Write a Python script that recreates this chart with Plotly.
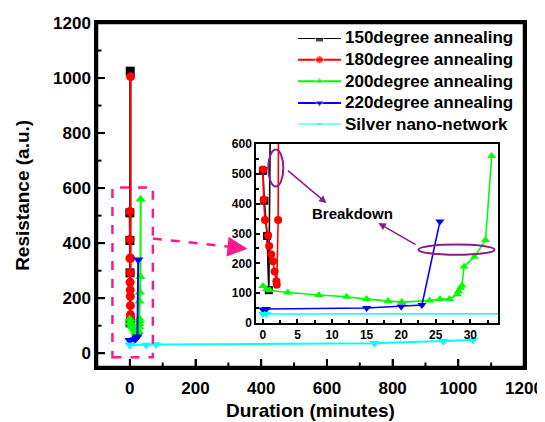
import plotly.graph_objects as go

# ---------------- data ----------------
names = ["150degree annealing", "180degree annealing", "200degree annealing",
         "220degree annealing", "Silver nano-network"]
colors = ["#000000", "#FF0000", "#00FF00", "#0000FF", "#00FFFF"]
symbols = ["square", "circle", "triangle-up", "triangle-down", "triangle-down"]

t150 = [0, 0.2, 0.6, 0.85, 1.2]
r150 = [510, 410, 292, 110, 1025]

t180 = [0, 0.1, 0.3, 0.75, 0.9, 1.2, 1.45, 1.7, 1.95, 2.0, 2.2, 2.3]
r180 = [515, 413, 345, 293, 258, 230, 207, 173, 140, 128, 345, 1005]

t200 = [0, 0.5, 1.0, 3.6, 8.1, 12.1, 15.0, 18.1, 20.1, 24.1, 25.6, 27.0,
        28.1, 28.3, 28.6, 28.8, 29.1, 30.6, 32.2, 33.1]
r200 = [124, 113, 110, 102, 94, 88, 80, 74, 70, 75, 80, 80,
        96, 107, 118, 126, 189, 222, 278, 560]

t220 = [0, 0.5, 15, 20, 23, 25.6]
r220 = [45, 47, 50, 55, 60, 340]

tAg = [0, 0.5, 50, 80, 745, 955, 1045]
rAg = [30, 30, 30, 32, 36, 44, 48]

series_t = [t150, t180, t200, t220, tAg]
series_r = [r150, r180, r200, r220, rAg]

main_xticks = [0, 200, 400, 600, 800, 1000, 1200]
main_yticks = [0, 200, 400, 600, 800, 1000, 1200]
main_xminor = [-100, 100, 300, 500, 700, 900, 1100]
main_yminor = [100, 300, 500, 700, 900, 1100]
inset_xticks = [0, 5, 10, 15, 20, 25, 30]
inset_yticks = [0, 100, 200, 300, 400, 500, 600]

FONT = "Liberation Sans"
BOLD = dict(family=FONT, color="black", weight="bold")

fig = go.Figure()
for i in range(5):
    fig.add_trace(go.Scatter(
        x=series_t[i], y=series_r[i], mode="lines+markers", name=names[i],
        line=dict(color=colors[i], width=2),
        marker=dict(symbol=symbols[i], size=9, color=colors[i]),
        xaxis="x", yaxis="y", showlegend=False))
for i in range(5):
    fig.add_trace(go.Scatter(
        x=series_t[i], y=series_r[i], mode="lines+markers", name=names[i],
        line=dict(color=colors[i], width=1.6),
        marker=dict(symbol=symbols[i], size=8, color=colors[i]),
        xaxis="x2", yaxis="y2", showlegend=False))

# legend: samples on a hidden helper axis pair, labels as paper annotations
LEG_X = [0.4707, 0.5714]
LEG_Y = [0.7049, 0.9564]
for i in range(5):
    fig.add_trace(go.Scatter(
        x=[0, 0.5, 1], y=[4 - i] * 3, mode="lines+markers", name=names[i],
        line=dict(color=colors[i], width=2),
        marker=dict(symbol=symbols[i], size=[0, 8, 0], color=colors[i]),
        xaxis="x3", yaxis="y3", showlegend=False, hoverinfo="skip"))
    fig.add_annotation(xref="paper", yref="paper", x=LEG_X[1] + 0.005,
                       y=LEG_Y[0] + (4 - i) / 4 * (LEG_Y[1] - LEG_Y[0]),
                       text=names[i], xanchor="left", yanchor="middle", showarrow=False,
                       font=dict(BOLD, size=17))

tickfont = dict(BOLD, size=17)
inset_font = dict(BOLD, size=12)
fig.update_layout(
    width=537, height=414,
    margin=dict(l=89, r=21, t=15, b=55),
    paper_bgcolor="white", plot_bgcolor="rgba(0,0,0,0)",
    font=dict(family=FONT, color="black"),
    xaxis=dict(domain=[0, 1], range=[-100, 1200], tickvals=main_xticks,
               ticks="inside", ticklen=8, tickwidth=2, tickcolor="black",
               showline=True, linewidth=2.5, linecolor="black", mirror=True,
               showgrid=False, zeroline=False, tickfont=tickfont, automargin=False,
               ticklabelstandoff=4),
    yaxis=dict(domain=[0, 1], range=[-50, 1200], tickvals=main_yticks,
               ticks="inside", ticklen=8, tickwidth=2, tickcolor="black",
               showline=True, linewidth=2.5, linecolor="black", mirror=True,
               showgrid=False, zeroline=False, tickfont=tickfont, automargin=False),
    xaxis2=dict(domain=[0.3724, 0.939], anchor="y2", range=[-1, 34], tickvals=inset_xticks,
                ticks="inside", ticklen=4, tickwidth=1.5, tickcolor="black",
                minor=dict(dtick=2.5, ticks="inside", ticklen=3, tickwidth=1.5, tickcolor="black"),
                showline=True, linewidth=1.5, linecolor="black", mirror=True,
                showgrid=False, zeroline=False, automargin=False, tickfont=inset_font),
    yaxis2=dict(domain=[0.128, 0.648], anchor="x2", range=[0, 600], tickvals=inset_yticks,
                ticks="inside", ticklen=4, tickwidth=1.5, tickcolor="black",
                minor=dict(dtick=50, ticks="inside", ticklen=3, tickwidth=1.5, tickcolor="black"),
                showline=True, linewidth=1.5, linecolor="black", mirror=True,
                showgrid=False, zeroline=False, automargin=False, tickfont=inset_font),
    xaxis3=dict(domain=LEG_X, anchor="y3", range=[0, 1], visible=False, fixedrange=True),
    yaxis3=dict(domain=LEG_Y, anchor="x3", range=[0, 4], visible=False, fixedrange=True),
    showlegend=False,
)

# main frame and tick marks (drawn explicitly so they always show)
fig.add_shape(type="rect", xref="x domain", yref="y domain", x0=0, x1=1, y0=0, y1=1,
              line=dict(color="black", width=2.5))
for vals, ln in ((main_xticks, 8), (main_xminor, 4.5)):
    for v in vals:
        fig.add_shape(type="line", xref="x", yref="y domain", x0=v, x1=v,
                      y0=0, y1=ln / 344, line=dict(color="black", width=2))
for vals, ln in ((main_yticks, 8), (main_yminor, 4.5)):
    for v in vals:
        fig.add_shape(type="line", xref="x domain", yref="y", x0=0, x1=ln / 427,
                      y0=v, y1=v, line=dict(color="black", width=2))

# axis titles
fig.add_annotation(xref="paper", yref="paper", x=0.499, y=-0.125, text="Duration (minutes)",
                   showarrow=False, xanchor="center", yanchor="middle",
                   font=dict(BOLD, size=19))
fig.add_annotation(xref="paper", yref="paper", x=-0.176, y=0.5, text="Resistance (a.u.)",
                   showarrow=False, textangle=-90, xanchor="center", yanchor="middle",
                   font=dict(BOLD, size=19))

PINK = "#FF1A8C"
PURPLE = "#8B1C8B"
fig.add_shape(type="rect", xref="x", yref="y", x0=-53, x1=70, y0=-15, y1=602,
              line=dict(color=PINK, width=2.5, dash="dash"))
fig.add_shape(type="line", xref="x", yref="y", x0=70, y0=417, x1=320, y1=385,
              line=dict(color=PINK, width=2.5, dash="dash"))
fig.add_annotation(xref="x", yref="y", axref="x", ayref="y", x=358, y=380, ax=318, ay=385,
                   text="", showarrow=True, arrowhead=2, arrowsize=1.6, arrowwidth=2.5,
                   arrowcolor=PINK, standoff=0)

fig.add_shape(type="circle", xref="x2", yref="y2", x0=0.77, x1=2.95, y0=458, y1=582,
              line=dict(color=PURPLE, width=2))
fig.add_shape(type="circle", xref="x2", yref="y2", x0=22.5, x1=33.5, y0=229, y1=263,
              line=dict(color=PURPLE, width=2))
fig.add_annotation(xref="x2", yref="y2", axref="x2", ayref="y2", x=9.2, y=402, ax=3.4, ay=515,
                   text="", showarrow=True, arrowhead=2, arrowsize=1, arrowwidth=1.5,
                   arrowcolor=PURPLE, standoff=0)
fig.add_annotation(xref="x2", yref="y2", axref="x2", ayref="y2", x=16.7, y=335, ax=22.3, ay=260,
                   text="", showarrow=True, arrowhead=2, arrowsize=1, arrowwidth=1.5,
                   arrowcolor=PURPLE, standoff=0)
fig.add_annotation(xref="x2", yref="y2", x=13.0, y=368, text="Breakdown", showarrow=False,
                   font=dict(BOLD, size=15))

fig.write_html("out.html")
